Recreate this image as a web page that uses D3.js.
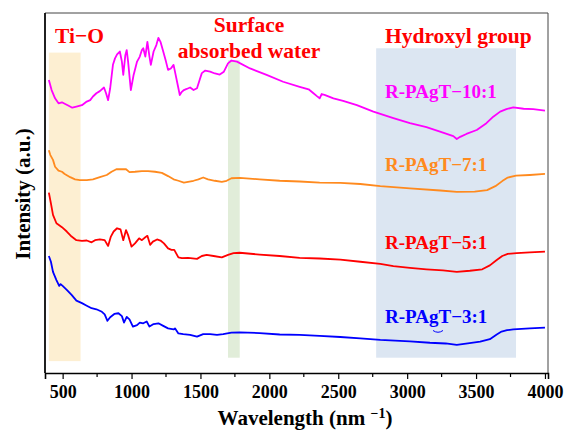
<!DOCTYPE html>
<html>
<head>
<meta charset="utf-8">
<script src="https://cdn.jsdelivr.net/npm/d3@7"></script>
<style>
  body { margin: 0; background: #fff; }
  svg { display: block; }
  text { font-family: "Liberation Serif", "Times New Roman", serif; font-weight: bold; }
</style>
</head>
<body>
<svg id="chart" width="564" height="432"></svg>
<script>
// FTIR spectra of R-PAgT composites (offset, arbitrary intensity)
const xTicks = [500, 1000, 1500, 2000, 2500, 3000, 3500, 4000];
const xMinorTicks = [750, 1250, 1750, 2250, 2750, 3250, 3750];

const wn10 = [400,420,445,470,495,515,540,570,600,640, 675,700,720,745,770,800,815,830,845,865,
  880,895,915,930,940,955,965,975,995,1015, 1040,1060,1075,1085,1100,1115,1130,1140,1160,1180,
  1195,1210,1230,1250,1265,1285,1305,1320,1340,1350, 1365,1380,1400,1425,1450,1475,1490,1510,1535,1570,
  1605,1640,1670,1700,1725,1765,1860,1980,2100,2220, 2285,2320,2345,2365,2380,2405,2465,2535,2635,2755,
  2900,3020,3140,3260,3335,3360,3385,3430,3505,3575, 3625,3675,3720,3770,3845,3915,4000];
const int10 = [81.4,78.6,76.3,74.9,75.2,74.8,74.3,73.7,74.0,74.4, 75.4,75.8,76.8,77.7,78.3,79.3,77.7,75.8,79.1,85.6,
  87.4,88.5,89.3,86.5,82.8,88.3,89.7,86.5,78.6,82.8, 86.5,87.9,89.7,90.2,87.9,92.0,87.9,85.6,89.3,91.1,
  93.1,92.0,89.3,86.5,84.2,84.6,85.6,82.8,79.1,77.2, 78.1,78.6,78.9,79.3,78.6,79.1,80.9,83.3,84.0,83.7,
  83.2,82.9,83.7,86.0,86.8,86.5,84.6,82.8,80.9,79.5, 78.8,77.7,76.9,76.3,77.5,77.2,76.3,75.6,74.4,72.6,
  70.8,69.4,68.3,66.8,65.8,65.0,65.6,66.4,67.5,69.4, 71.2,72.6,73.3,73.8,73.4,73.3,72.9];

const wn7 = [400,410,430,445,470,495,515,555,590,625, 675,720,770,820,855,890,930,960,985,1025,
  1075,1120,1170,1220,1265,1305,1340,1380,1410,1450, 1485,1520,1555,1605,1655,1690,1725,1785,1930,2075,
  2220,2365,2515,2660,2805,3020,3240,3360,3490,3580, 3640,3690,3730,3790,3890,4000];
const int7 = [61.9,60.6,59.2,57.3,56.2,55.9,55.3,54.4,53.8,53.6, 53.6,53.8,54.4,55.0,55.9,56.6,56.6,56.6,55.8,55.9,
  56.1,56.1,55.9,55.6,54.7,53.8,53.4,52.9,53.1,53.4, 53.8,54.3,53.8,53.4,53.1,53.4,54.1,54.2,53.8,53.4,
  53.2,52.9,52.8,52.5,51.9,51.3,50.7,50.3,50.4,50.8, 51.9,53.3,54.3,54.8,55.0,55.3];

const wn5 = [400,415,430,455,495,530,565,600,640,675, 710,735,770,805,830,850,870,895,920,940,
  960,975,1000,1025,1055,1075,1100,1115,1135,1155, 1185,1210,1235,1265,1290,1310,1340,1365,1410,1475,
  1510,1545,1595,1655,1700,1740,1785,1930,2075,2220, 2365,2515,2660,2805,2900,3020,3140,3260,3360,3455,
  3545,3600,3650,3690,3730,3795,3890,4000];
const int5 = [50.1,47.1,43.9,41.6,40.5,39.3,37.9,36.9,36.7,36.8, 36.3,36.9,37.1,36.9,35.3,37.9,39.3,40.2,39.9,36.9,
  39.7,38.3,35.1,36.0,37.4,36.9,37.7,38.1,35.6,36.5, 37.1,36.8,36.0,34.6,34.2,34.2,32.1,31.9,32.0,31.7,
  32.5,32.8,32.5,32.1,32.8,33.3,33.4,32.9,32.5,32.0, 31.8,31.5,30.9,30.3,29.7,29.2,28.8,28.5,28.1,28.4,
  28.8,29.9,31.4,32.5,33.1,33.3,33.5,33.7];

const wn3 = [400,415,430,455,475,485,500,530,565,600, 640,675,710,745,785,805,825,845,875,905,
  930,945,965,985,1010,1040,1060,1085,1110,1130, 1160,1195,1230,1265,1305,1315,1340,1375,1425,1475,
  1520,1570,1620,1665,1725,1785,1930,2075,2220,2365, 2515,2660,2805,3020,3165,3280,3360,3440,3530,3600,
  3650,3685,3725,3770,3890,4000];
const int3 = [32.5,30.9,28.1,25.8,24.2,24.7,24.2,23.1,21.7,20.1, 19.4,18.7,18.0,17.7,17.0,16.3,14.5,15.5,16.4,16.6,
  15.8,14.0,15.6,14.9,12.9,13.3,14.0,13.8,14.3,12.9, 13.6,13.8,13.1,12.4,12.1,12.4,11.0,10.8,10.6,10.1,
  10.8,10.8,10.6,10.8,11.2,11.3,11.1,10.7,10.6,10.3, 10.0,9.6,9.2,8.8,8.4,8.2,7.8,8.2,8.7,9.4,
  10.7,11.5,11.9,12.1,12.4,12.6];

const seriesNames = ["R-PAgT\u221210:1", "R-PAgT\u22127:1", "R-PAgT\u22125:1", "R-PAgT\u22123:1"];
const seriesColors = ["#ff00ff", "#ff8a1e", "#ff0000", "#0000ff"];

// highlighted absorption regions
const bandStart = [400, 1700, 2775];
const bandEnd = [630, 1785, 3790];
const bandTop = [89.0, 86.9, 90.2];
const bandBottom = [3.3, 4.25, 4.25];
const bandColors = ["#fdefd2", "#e1edd9", "#dce6f2"];

const svg = d3.select("#chart");
const margin = { left: 45, right: 16, top: 13, bottom: 59 };
const W = 564, H = 432;
const x = d3.scaleLinear().domain([372, 4022]).range([margin.left, W - margin.right]);
const y = d3.scaleLinear().domain([0, 100]).range([H - margin.bottom, margin.top]);

// bands
svg.append("g").selectAll("rect")
  .data(d3.range(bandStart.length))
  .join("rect")
  .attr("x", i => x(bandStart[i]))
  .attr("width", i => x(bandEnd[i]) - x(bandStart[i]))
  .attr("y", i => y(bandTop[i]))
  .attr("height", i => y(bandBottom[i]) - y(bandTop[i]))
  .attr("fill", i => bandColors[i]);

// spectra
const series = [
  d3.zip(wn10, int10), d3.zip(wn7, int7), d3.zip(wn5, int5), d3.zip(wn3, int3)
];
const line = d3.line().x(d => x(d[0])).y(d => y(d[1]));
svg.append("g").selectAll("path")
  .data(series)
  .join("path")
  .attr("d", line)
  .attr("fill", "none")
  .attr("stroke", (d, i) => seriesColors[i])
  .attr("stroke-width", 1.8)
  .attr("stroke-linejoin", "round");

// frame
const x0 = margin.left, x1 = W - margin.right, y0 = margin.top, y1 = H - margin.bottom;
svg.append("path")
  .attr("d", `M${x0},${y1}V${y0}H${x1}V${y1}`)
  .attr("fill", "none").attr("stroke", "#444").attr("stroke-width", 1);
svg.append("line").attr("x1", x0).attr("x2", x0).attr("y1", y0).attr("y2", y1)
  .attr("stroke", "#000").attr("stroke-width", 1.6);

// x axis
const xAxis = d3.axisBottom(x).tickValues(xTicks).tickSize(6).tickPadding(6).tickFormat(d3.format("d"));
const gx = svg.append("g").attr("transform", `translate(0,${y1})`).call(xAxis);
gx.select(".domain").attr("stroke", "#000").attr("stroke-width", 1.6);
gx.selectAll(".tick line").attr("stroke", "#000").attr("stroke-width", 1.2);
gx.selectAll(".tick text").attr("font-size", 18).attr("fill", "#000")
  .style("font-family", "'Liberation Serif', serif").style("font-weight", "bold");
svg.append("g").selectAll("line")
  .data(xMinorTicks).join("line")
  .attr("x1", d => x(d)).attr("x2", d => x(d))
  .attr("y1", y1).attr("y2", y1 + 4)
  .attr("stroke", "#000").attr("stroke-width", 1.2);

// axis titles
const xt = svg.append("text").attr("x", 305).attr("y", 425).attr("text-anchor", "middle")
  .attr("font-size", 21).attr("fill", "#000");
xt.append("tspan").text("Wavelength (nm ");
xt.append("tspan").attr("baseline-shift", "super").attr("font-size", 14).text("\u22121");
xt.append("tspan").text(")");

svg.append("text").attr("transform", "translate(30,194) rotate(-90)")
  .attr("text-anchor", "middle").attr("font-size", 21).attr("fill", "#000")
  .text("Intensity (a.u.)");

// region annotations
const red = "#ff0000";
svg.append("text").attr("x", 55).attr("y", 43).attr("font-size", 21.5).attr("fill", red).text("Ti\u2212O");
svg.append("text").attr("x", 249).attr("y", 31.5).attr("text-anchor", "middle").attr("font-size", 21.5).attr("fill", red).text("Surface");
svg.append("text").attr("x", 249).attr("y", 57.5).attr("text-anchor", "middle").attr("font-size", 21.5).attr("fill", red).text("absorbed water");
svg.append("text").attr("x", 385).attr("y", 43).attr("font-size", 21.5).attr("fill", red).text("Hydroxyl group");

// series labels
const labelY = [98, 171, 249, 323];
svg.append("g").selectAll("text")
  .data(seriesNames).join("text")
  .attr("x", 385).attr("y", (d, i) => labelY[i])
  .attr("font-size", 19).attr("fill", (d, i) => seriesColors[i])
  .text(d => d);

// small stray stroke beneath the last label's "g"
svg.append("path")
  .attr("d", "M433,330.5 Q438,334 443,330.5")
  .attr("fill", "none").attr("stroke", "#0000ff").attr("stroke-width", 1);
</script>
</body>
</html>
